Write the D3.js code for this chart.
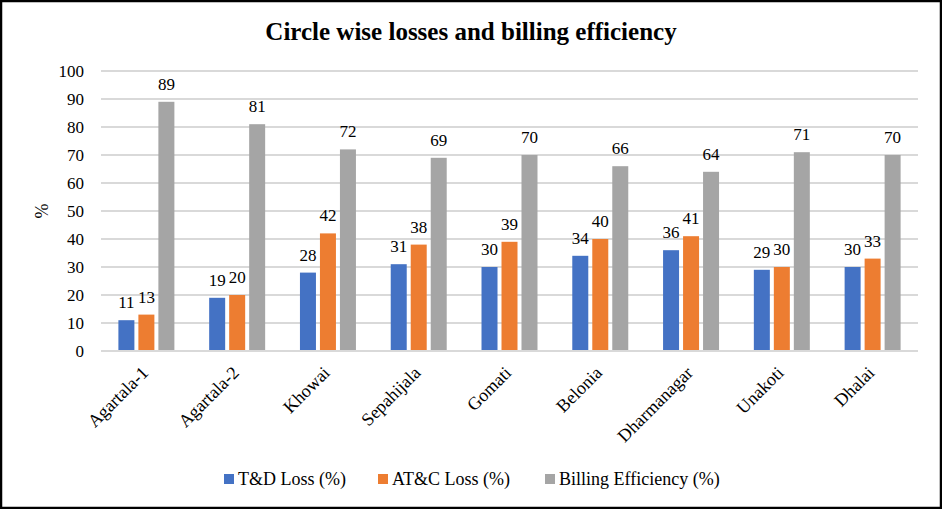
<!DOCTYPE html>
<html>
<head>
<meta charset="utf-8">
<script src="https://cdn.jsdelivr.net/npm/d3@7"></script>
</head>
<body style="margin:0; background:#fff">
<svg id="chart" width="942" height="509" font-family="Liberation Serif" style="display:block"></svg>
<script>
// chart data
const circles = ["Agartala-1", "Agartala-2", "Khowai", "Sepahijala", "Gomati", "Belonia", "Dharmanagar", "Unakoti", "Dhalai"];
const tdLoss = [11, 19, 28, 31, 30, 34, 36, 29, 30];
const atcLoss = [13, 20, 42, 38, 39, 40, 41, 30, 33];
const billingEff = [89, 81, 72, 69, 70, 66, 64, 71, 70];
const seriesNames = ["T&D Loss (%)", "AT&C Loss (%)", "Billing Efficiency (%)"];
const yTicks = [0, 10, 20, 30, 40, 50, 60, 70, 80, 90, 100];

const colors = ["#4472c4", "#ed7d31", "#a5a5a5"];
const allSeries = [tdLoss, atcLoss, billingEff];
const FONT = "Liberation Serif";

const svg = d3.select("#chart"),
  width = +svg.attr("width"),
  height = +svg.attr("height");

svg.append("rect")
  .attr("x", 1).attr("y", 1)
  .attr("width", width - 2).attr("height", height - 2)
  .attr("fill", "#fff").attr("stroke", "#000").attr("stroke-width", 2.5);

const margin = { left: 101, right: 24, top: 71, bottom: 158 };

const x = d3.scaleBand()
  .domain(circles)
  .range([margin.left, width - margin.right]);

const xInner = d3.scaleBand()
  .domain(d3.range(3))
  .range([0, x.bandwidth()])
  .paddingInner(0.2)
  .paddingOuter(0.87);

const y = d3.scaleLinear()
  .domain([0, 100])
  .range([height - margin.bottom, margin.top]);

// gridlines
svg.append("g")
  .selectAll("line")
  .data(yTicks)
  .join("line")
  .attr("x1", margin.left)
  .attr("x2", width - margin.right)
  .attr("y1", d => y(d))
  .attr("y2", d => y(d))
  .attr("stroke", "#d9d9d9")
  .attr("stroke-width", 2);

// y axis labels
svg.append("g")
  .selectAll("text")
  .data(yTicks)
  .join("text")
  .attr("x", margin.left - 17)
  .attr("y", d => y(d))
  .attr("dy", "0.35em")
  .attr("text-anchor", "end")
  .attr("font-family", FONT)
  .attr("font-size", 17)
  .attr("fill", "#000")
  .text(d => d);

svg.append("text")
  .attr("transform", `translate(42, ${y(50)}) rotate(-90)`)
  .attr("text-anchor", "middle")
  .attr("dy", "0.35em")
  .attr("font-family", FONT)
  .attr("font-size", 18)
  .text("%");

// bars
const groups = svg.append("g")
  .selectAll("g")
  .data(circles)
  .join("g")
  .attr("transform", d => `translate(${x(d)},0)`);

groups.selectAll("rect")
  .data((d, i) => allSeries.map((s, k) => ({ k, v: s[i] })))
  .join("rect")
  .attr("x", d => xInner(d.k))
  .attr("width", xInner.bandwidth())
  .attr("y", d => y(d.v))
  .attr("height", d => y(0) - y(d.v))
  .attr("fill", d => colors[d.k]);

groups.selectAll("text")
  .data((d, i) => allSeries.map((s, k) => ({ k, v: s[i] })))
  .join("text")
  .attr("x", d => xInner(d.k) + xInner.bandwidth() / 2)
  .attr("y", d => y(d.v) - 12)
  .attr("text-anchor", "middle")
  .attr("font-family", FONT)
  .attr("font-size", 17)
  .text(d => d.v);

// x axis baseline
svg.append("line")
  .attr("x1", margin.left).attr("x2", width - margin.right)
  .attr("y1", y(0)).attr("y2", y(0))
  .attr("stroke", "#d9d9d9").attr("stroke-width", 2);

// category labels
svg.append("g")
  .selectAll("text")
  .data(circles)
  .join("text")
  .attr("transform", d => `translate(${x(d) + x.bandwidth() / 2 - 6}, ${y(0) + 14}) rotate(-45)`)
  .attr("text-anchor", "end")
  .attr("dy", "0.7em")
  .attr("font-family", FONT)
  .attr("font-size", 18)
  .text(d => d);

// title
svg.append("text")
  .attr("x", width / 2)
  .attr("y", 40)
  .attr("text-anchor", "middle")
  .attr("font-family", FONT)
  .attr("font-size", 25)
  .attr("font-weight", "bold")
  .text("Circle wise losses and billing efficiency");

// legend
const legendX = [224, 378, 545];
const legend = svg.append("g")
  .selectAll("g")
  .data(seriesNames)
  .join("g")
  .attr("transform", (d, i) => `translate(${legendX[i]}, 479)`);

legend.append("rect")
  .attr("x", 0).attr("y", -5)
  .attr("width", 10).attr("height", 10)
  .attr("fill", (d, i) => colors[i]);

legend.append("text")
  .attr("x", 14)
  .attr("dy", "0.35em")
  .attr("font-family", FONT)
  .attr("font-size", 18)
  .text(d => d);
</script>
</body>
</html>
